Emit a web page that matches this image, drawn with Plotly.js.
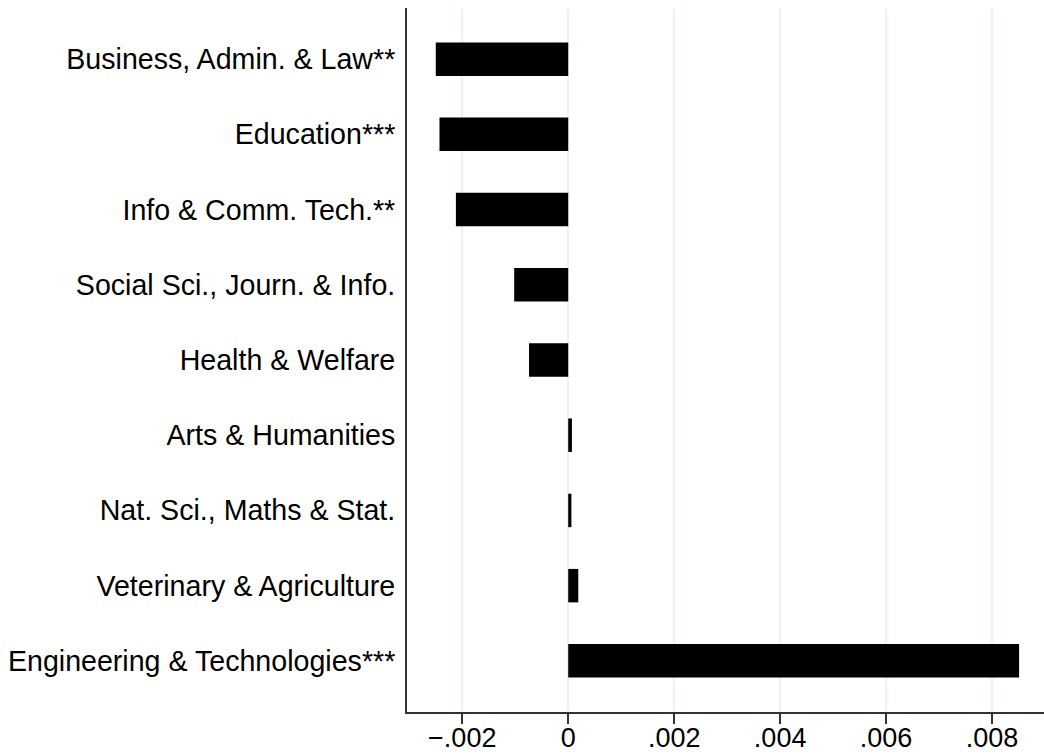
<!DOCTYPE html>
<html>
<head>
<meta charset="utf-8">
<script src="https://cdn.plot.ly/plotly-3.0.1.min.js"></script>
<style>html,body{margin:0;padding:0;background:#fff;}#chart{width:1044px;height:755px;}</style>
</head>
<body>
<div id="chart"></div>
<script>
const categories = [
  "Business, Admin. & Law**",
  "Education***",
  "Info & Comm. Tech.**",
  "Social Sci., Journ. & Info.",
  "Health & Welfare",
  "Arts & Humanities",
  "Nat. Sci., Maths & Stat.",
  "Veterinary & Agriculture",
  "Engineering & Technologies***"
];
const values = [-0.00250, -0.00243, -0.00212, -0.00102, -0.00074, 0.00007, 0.00006, 0.00019, 0.00851];
const xTickVals = [-0.002, 0, 0.002, 0.004, 0.006, 0.008];
const xTickText = ["\u2212.002", "0", ".002", ".004", ".006", ".008"];

const trace = {
  type: 'bar',
  orientation: 'h',
  x: values,
  y: categories,
  width: 0.445,
  marker: {color: '#000000', line: {width: 0}},
  hoverinfo: 'none'
};

const layout = {
  width: 1044,
  height: 755,
  margin: {l: 407, r: 0, t: 8, b: 43, pad: 0},
  paper_bgcolor: '#ffffff',
  plot_bgcolor: '#ffffff',
  showlegend: false,
  font: {family: 'Liberation Sans, Arial, sans-serif', color: '#000000', size: 28},
  xaxis: {
    range: [-0.003043, 0.00898],
    tickvals: xTickVals,
    ticktext: xTickText,
    ticks: 'outside',
    ticklen: 10,
    tickwidth: 2,
    tickcolor: '#333333',
    showline: true,
    linecolor: '#333333',
    linewidth: 2,
    showgrid: true,
    gridcolor: '#eaf2f3',
    gridwidth: 2,
    zeroline: false,
    ticklabelstandoff: -9,
    tickfont: {size: 27, color: '#000000'}
  },
  yaxis: {
    type: 'category',
    categoryorder: 'array',
    categoryarray: categories,
    range: [8.68, -0.68],
    showline: true,
    linecolor: '#333333',
    linewidth: 2,
    showgrid: false,
    zeroline: false,
    ticks: '',
    ticklabelstandoff: 4,
    tickfont: {size: 28.6, color: '#000000'}
  }
};

Plotly.newPlot('chart', [trace], layout, {staticPlot: true, displayModeBar: false});
</script>
</body>
</html>
